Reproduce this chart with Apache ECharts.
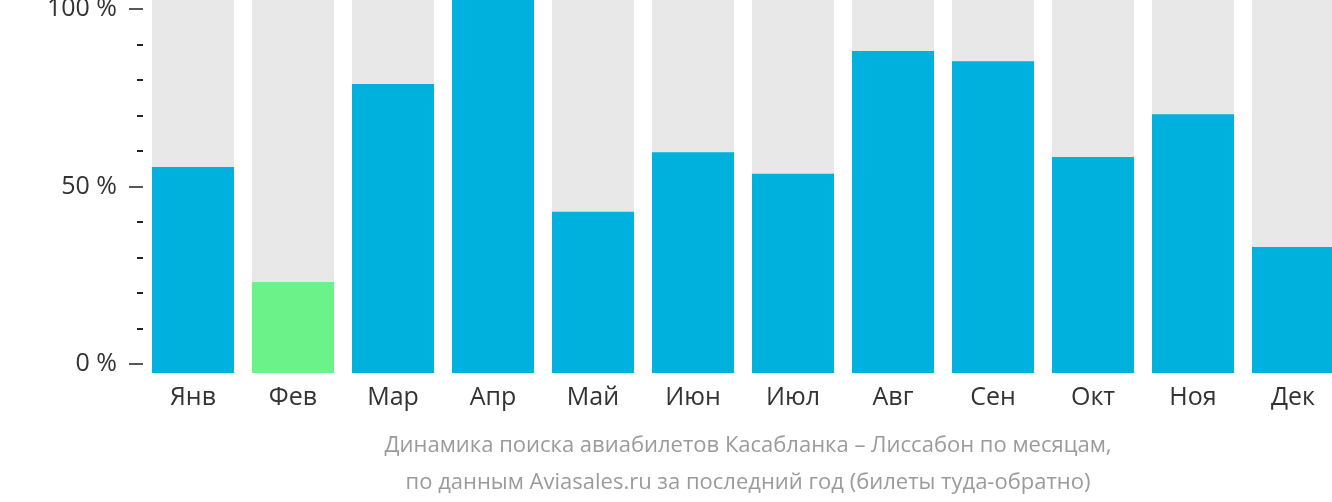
<!DOCTYPE html>
<html><head><meta charset="utf-8">
<script src="https://cdn.jsdelivr.net/npm/echarts@6/dist/echarts.min.js"></script>
<style>html,body{margin:0;padding:0;background:#fff}#c{width:1332px;height:502px}</style>
</head><body><div id="c"></div>
<script>
const categories = ['Янв','Фев','Мар','Апр','Май','Июн','Июл','Авг','Сен','Окт','Ноя','Дек'];
const values = [55.2, 24.4, 77.5, 100, 43.2, 59.2, 53.4, 86.3, 83.6, 57.9, 69.4, 33.8];
const highlightIndex = 1;
const yTicks = [0, 50, 100];
const titleLines = ['Динамика поиска авиабилетов Касабланка – Лиссабон по месяцам,', 'по данным Aviasales.ru за последний год (билеты туда-обратно)'];

const FONT = 'Open Sans';
const chart = echarts.init(document.getElementById('c'), null, {renderer:'canvas'});
chart.setOption({
  animation:false,
  title:{
    text: titleLines.join('\n'), left: 743, textAlign:'center', top: 422,
    textStyle:{fontFamily:FONT, fontSize:22, fontWeight:'normal', color:'#9b9b9b', lineHeight:37}
  },
  grid:[
    {left:143, width:1200, top:0, height:373, outerBoundsMode:'none', containLabel:false},
    {left:143, width:1200, top:9, height:355, outerBoundsMode:'none', containLabel:false}
  ],
  xAxis:[
    {gridIndex:0, type:'category', data:categories,
     axisLine:{show:false}, axisTick:{show:false},
     axisLabel:{fontFamily:FONT, fontSize:25, color:'#333', margin:12}},
    {gridIndex:1, type:'category', data:categories, show:false}
  ],
  yAxis:[
    {gridIndex:0, type:'value', min:0, max:100, show:false},
    {gridIndex:1, type:'value', min:yTicks[0], max:yTicks[yTicks.length-1], interval:50,
     axisLine:{show:false}, splitLine:{show:false},
     axisTick:{show:true, length:14, lineStyle:{color:'#222', width:1.5}},
     minorTick:{show:true, splitNumber:5, length:6, lineStyle:{color:'#222', width:2}},
     axisLabel:{fontFamily:FONT, fontSize:25, color:'#333', margin:26, padding:[4,0,0,0], formatter:'{value} %'}}
  ],
  series:[{
    type:'bar', xAxisIndex:0, yAxisIndex:0, barCategoryGap:'18%',
    showBackground:true, backgroundStyle:{color:'#e8e8e8'},
    data: values.map((v,i)=>({value:v, itemStyle:{color: i===highlightIndex ? '#6bf288' : '#00b1dd'}}))
  }]
});
</script></body></html>
